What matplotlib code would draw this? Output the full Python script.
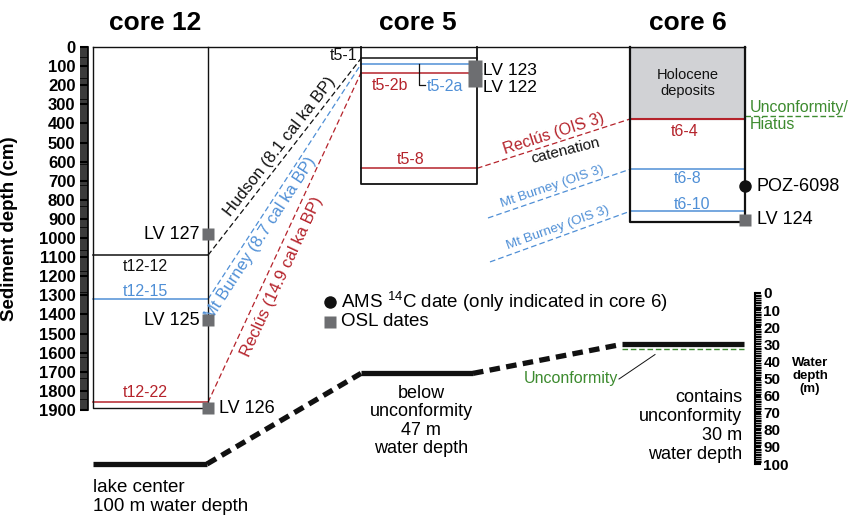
import numpy as np
import matplotlib
matplotlib.use("Agg")
import matplotlib.pyplot as plt
from matplotlib.ticker import MultipleLocator

plt.rcParams['font.family'] = ['Liberation Sans', 'DejaVu Sans']
plt.rcParams['mathtext.fontset'] = 'custom'
plt.rcParams['mathtext.rm'] = 'Liberation Sans'

# ---------------- data ----------------
core_titles = ['core 12', 'core 5', 'core 6']

core12_layers = ['t12-12', 't12-15', 't12-22']
core12_depths = [1090, 1320, 1860]
core12_bottom = 1890
core12_osl = ['LV 127', 'LV 125', 'LV 126']
core12_osl_depths = [980, 1430, 1890]

core5_layers = ['t5-1', 't5-2a', 't5-2b', 't5-8']
core5_depths = [60, 90, 135, 635]
core5_bottom = 715
core5_osl = ['LV 123', 'LV 122']
core5_osl_depths = [107, 175]

core6_layers = ['t6-4', 't6-8', 't6-10']
core6_depths = [377, 640, 860]
core6_bottom = 915
holocene_base = 377
hiatus_depth = 360
core6_ams = ['POZ-6098']
core6_ams_depths = [730]
core6_osl = ['LV 124']
core6_osl_depths = [905]

corr_names = ['Hudson (8.1 cal ka BP)', 'Mt Burney (8.7 cal ka BP)', 'Reclús (14.9 cal ka BP)']
corr_core12 = [1090, 1320, 1860]
corr_core5 = [60, 90, 135]

ois3_reclus_core5 = 635
ois3_reclus_core6 = 377
ois3_mtb_start = [895, 1125]
ois3_mtb_core6 = [640, 860]

sites = ['lake center', 'core 5', 'core 6']
water_depths = [100, 47, 30]
unconf_water_depth = 33

# ---------------- colours ----------------
RED = '#b5232b'
BLUE = '#4f8fd6'
GREEN = '#3d8b2f'
GREY = '#6d6e71'
FILL = '#d1d2d5'
BLACK = '#111111'

layer_col = {'t12-12': BLACK, 't12-15': BLUE, 't12-22': RED,
             't5-1': BLACK, 't5-2a': BLUE, 't5-2b': RED, 't5-8': RED,
             't6-4': RED, 't6-8': BLUE, 't6-10': BLUE}
corr_cols = [BLACK, BLUE, RED]

W, H = 850, 518
fig = plt.figure(figsize=(W / 100, H / 100), dpi=100)

# layout in pixels
X12 = (93, 208)
X5 = (361, 477)
X6 = (630, 745)
Y0, Y1900 = 47, 410
WY0, WY100 = 293, 464
WX = 755

# sediment depth axes
ax1 = fig.add_axes([0, (H - Y1900) / H, 1, (Y1900 - Y0) / H])
ax1.set_xlim(0, W)
ax1.set_ylim(1900, 0)
ax1.patch.set_visible(False)
for s in ['top', 'right', 'bottom']:
    ax1.spines[s].set_visible(False)
ax1.spines['left'].set_position(('data', 88))
ax1.spines['left'].set_linewidth(1.2)
ax1.set_xticks([])
ax1.yaxis.set_major_locator(MultipleLocator(100))
ax1.yaxis.set_minor_locator(MultipleLocator(10))
ax1.tick_params(axis='y', which='major', direction='out', length=6, width=1.5, pad=3,
                labelsize=12)
ax1.tick_params(axis='y', which='minor', direction='out', length=6, width=1.1)
for lab in ax1.get_yticklabels():
    lab.set_fontweight('bold')
ax1.set_ylabel('Sediment depth (cm)', fontsize=13.5, fontweight='bold', labelpad=4)
ax1.yaxis.set_label_coords(18 / W, 0.5)

# water depth axes
ax2 = fig.add_axes([0, (H - WY100) / H, WX / W, (WY100 - WY0) / H])
ax2.set_xlim(0, WX)
ax2.set_ylim(100, 0)
ax2.patch.set_visible(False)
for s in ['top', 'left', 'bottom']:
    ax2.spines[s].set_visible(False)
ax2.spines['right'].set_linewidth(1.5)
ax2.set_xticks([])
ax2.yaxis.tick_right()
ax2.yaxis.set_major_locator(MultipleLocator(10))
ax2.yaxis.set_minor_locator(MultipleLocator(1))
ax2.tick_params(axis='y', which='major', direction='out', length=4, width=1.5, pad=2,
                labelsize=11)
ax2.tick_params(axis='y', which='minor', direction='out', length=4, width=1.0)
for lab in ax2.get_yticklabels():
    lab.set_fontweight('bold')

# overlay in pixel coordinates
axo = fig.add_axes([0, 0, 1, 1])
axo.set_xlim(0, W)
axo.set_ylim(H, 0)
axo.axis('off')
axo.patch.set_visible(False)

# ---------------- core boxes ----------------
ax1.plot([X12[0], X6[1]], [0, 0], color=BLACK, lw=1.0, clip_on=False)
def box(x, bottom, lw):
    ax1.plot([x[0], x[0], x[1], x[1]], [0, bottom, bottom, 0], color=BLACK, lw=lw,
             clip_on=False, zorder=3)

ax1.fill_between([X6[0], X6[1]], 0, holocene_base, color=FILL, zorder=1)
box(X12, core12_bottom, 1.0)
box(X5, core5_bottom, 1.3)
box(X6, core6_bottom, 1.6)
ax1.plot([X6[0], X6[1]], [0, 0], color=BLACK, lw=1.6, zorder=3)

for n, d in zip(core12_layers, core12_depths):
    ax1.plot(X12, [d, d], color=layer_col[n], lw=1.1, zorder=2)
for n, d in zip(core5_layers, core5_depths):
    ax1.plot(X5, [d, d], color=layer_col[n], lw=1.1, zorder=2)
for n, d in zip(core6_layers, core6_depths):
    ax1.plot(X6, [d, d], color=layer_col[n], lw=1.5 if n == 't6-4' else 1.1, zorder=2)

# layer labels (x, pixel offset)
lab_pos = {'t12-12': (145, -11), 't12-15': (145, 8), 't12-22': (145, 10),
           't5-8': (411, 9), 't6-4': (685, -12), 't6-8': (688, -9), 't6-10': (692, 7)}
for names, depths in [(core12_layers, core12_depths), (core5_layers, core5_depths),
                      (core6_layers, core6_depths)]:
    for n, d in zip(names, depths):
        if n in lab_pos:
            x, dy = lab_pos[n]
            ax1.annotate(n, xy=(x, d), xytext=(0, dy), textcoords='offset pixels',
                         ha='center', va='center', fontsize=11.5, color=layer_col[n])
# t5-1, t5-2a, t5-2b
d51, d52a, d52b = core5_depths[0], core5_depths[1], core5_depths[2]
ax1.annotate('t5-1', xy=(357, d51), xytext=(0, 3), textcoords='offset pixels',
             ha='right', va='center', fontsize=11.5, color=BLACK)
ax1.annotate('t5-2b', xy=(390, d52b), xytext=(0, -13), textcoords='offset pixels',
             ha='center', va='center', fontsize=11.5, color=RED)
ax1.annotate('t5-2a', xy=(445, d52a), xytext=(0, -22), textcoords='offset pixels',
             ha='center', va='center', fontsize=11.5, color=BLUE)
ax1.plot([419, 419, 425], [d52a, d52a + 110, d52a + 110], color=BLACK, lw=0.9)

# Holocene text
ax1.text((X6[0] + X6[1]) / 2, holocene_base * 0.5, 'Holocene\ndeposits', ha='center',
         va='center', fontsize=10.5, linespacing=1.2, color=BLACK)

# hiatus
ax1.plot([X6[1], 845], [hiatus_depth, hiatus_depth], color=GREEN, lw=1.0,
         ls=(0, (4, 2)), clip_on=False)
ax1.annotate('Unconformity/\nHiatus', xy=(750, hiatus_depth), xytext=(0, 0),
             textcoords='offset pixels', ha='left', va='center', fontsize=11.5,
             color=GREEN, linespacing=1.15, annotation_clip=False)

# OSL / AMS markers
msq = 9
for n, d in zip(core12_osl, core12_osl_depths):
    ax1.plot(X12[1], d, 's', ms=msq, color=GREY, mec='none', clip_on=False, zorder=5)
for n, d in zip(core5_osl, core5_osl_depths):
    ax1.plot(X5[1] - 2, d, 's', ms=msq + 1, color=GREY, mec='none', clip_on=False, zorder=5)
for n, d in zip(core6_osl, core6_osl_depths):
    ax1.plot(X6[1], d, 's', ms=msq, color=GREY, mec='none', clip_on=False, zorder=5)
for n, d in zip(core6_ams, core6_ams_depths):
    ax1.plot(X6[1], d, 'o', ms=msq, color=BLACK, mec='none', clip_on=False, zorder=5)

fs_lab = 13
for n, d in zip(core12_osl, core12_osl_depths):
    if n == 'LV 126':
        ax1.text(219, d, n, ha='left', va='center', fontsize=fs_lab, clip_on=False)
    else:
        ax1.text(200, d, n, ha='right', va='center', fontsize=fs_lab)
ax1.annotate(core5_osl[0], xy=(483, core5_osl_depths[0]), xytext=(0, -3),
             textcoords='offset pixels', ha='left', va='center', fontsize=12.5)
ax1.annotate(core5_osl[1], xy=(483, core5_osl_depths[1]), xytext=(0, -7),
             textcoords='offset pixels', ha='left', va='center', fontsize=12.5)
ax1.text(757, core6_ams_depths[0], core6_ams[0], ha='left', va='center', fontsize=fs_lab)
ax1.text(757, core6_osl_depths[0], core6_osl[0], ha='left', va='center', fontsize=fs_lab)

# ---------------- correlation lines ----------------
def line_label(ax, p0, p1, text, frac, off, color, size, dang=0.0):
    d0 = ax.transData.transform(p0)
    d1 = ax.transData.transform(p1)
    ang = np.degrees(np.arctan2(d1[1] - d0[1], d1[0] - d0[0]))
    a = np.radians(ang)
    nx, ny = -np.sin(a), np.cos(a)
    px = p0[0] + frac * (p1[0] - p0[0])
    py = p0[1] + frac * (p1[1] - p0[1])
    ax.annotate(text, xy=(px, py), xytext=(off * nx, off * ny), textcoords='offset pixels',
                rotation=ang + dang, rotation_mode='anchor', ha='center', va='center',
                fontsize=size, color=color, annotation_clip=False)

dash = (0, (4.5, 2.5))
fracs = [0.52, 0.285, 0.40]
offs = [10, -11, -14]
for name, d12, d5, c, fr, of in zip(corr_names, corr_core12, corr_core5, corr_cols, fracs, offs):
    ax1.plot([X12[1], X5[0]], [d12, d5], color=c, lw=0.9, ls=dash, zorder=2)
    line_label(ax1, (X12[1], d12), (X5[0], d5), name, fr, of, c, 12)

ax1.plot([X5[1], X6[0]], [ois3_reclus_core5, ois3_reclus_core6], color=RED, lw=0.9, ls=dash)
line_label(ax1, (X5[1], ois3_reclus_core5), (X6[0], ois3_reclus_core6), 'Reclús (OIS 3)',
           0.52, 9, RED, 11.5)
line_label(ax1, (X5[1], ois3_reclus_core5), (X6[0], ois3_reclus_core6), 'catenation',
           0.56, -10, BLACK, 11, dang=-4)
for ds, de, xs, fr in zip(ois3_mtb_start, ois3_mtb_core6, [488, 490], [0.47, 0.51]):
    ax1.plot([xs, X6[0]], [ds, de], color=BLUE, lw=0.9, ls=dash)
    line_label(ax1, (xs, ds), (X6[0], de), 'Mt Burney (OIS 3)', fr, 9, BLUE, 9.6)

# ---------------- water depth profile ----------------
px = [93, 207, 361, 473, 622, 744]
wd = [water_depths[0], water_depths[0], water_depths[1], water_depths[1],
      water_depths[2], water_depths[2]]
styles = ['solid', (0, (2.0, 1.2)), 'solid', (0, (2.0, 1.2)), 'solid']
for i, st in enumerate(styles):
    ax2.plot(px[i:i + 2], wd[i:i + 2], color=BLACK, lw=3.8, ls=st, solid_capstyle='butt',
             dash_capstyle='butt', clip_on=False)
ax2.plot([622, 744], [unconf_water_depth, unconf_water_depth], color=GREEN, lw=1.0,
         ls=(0, (4, 2)), clip_on=False)
ax2.plot([619, 655], [50.3, 36.0], color=BLACK, lw=0.7)

# ---------------- free text ----------------
for t, x in zip(core_titles, [155, 418, 688]):
    axo.text(x, 23, t, ha='center', va='center', fontsize=19, fontweight='bold')

axo.plot(330, 302, 'o', ms=9, color=BLACK, mec='none')
axo.plot(330, 322, 's', ms=9, color=GREY, mec='none')
axo.text(341, 302, r'AMS $^{14}$C date (only indicated in core 6)', ha='left', va='center',
         fontsize=13.5)
axo.text(341, 322, 'OSL dates', ha='left', va='center', fontsize=13.5)

axo.text(618, 379, 'Unconformity', ha='right', va='center', fontsize=11.5, color=GREEN)
axo.text(421, 421, 'below\nunconformity\n47 m\nwater depth', ha='center', va='center',
         fontsize=13, linespacing=1.1)
axo.text(742, 426, 'contains\nunconformity\n30 m\nwater depth', ha='right', va='center',
         fontsize=13, linespacing=1.15, multialignment='right')
axo.text(93, 497, 'lake center\n100 m water depth', ha='left', va='center', fontsize=13.5,
         linespacing=1.1)
axo.text(810, 376, 'Water\ndepth\n(m)', ha='center', va='center', fontsize=9.5,
         fontweight='bold', linespacing=1.1)

fig.savefig('out.png', dpi=100)
